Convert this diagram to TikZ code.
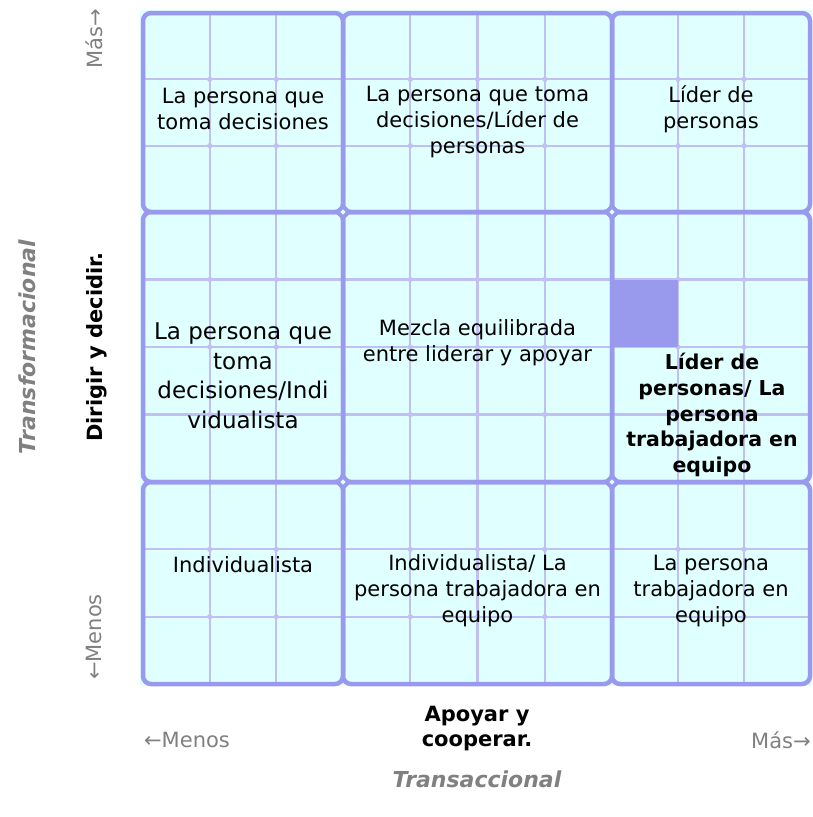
\documentclass[tikz,border=0pt]{standalone}
\usepackage{fontspec}
\setmainfont{DejaVu Sans}
\definecolor{cellbg}{RGB}{224,255,255}
\definecolor{majorblue}{RGB}{153,153,238}
\definecolor{minorblue}{RGB}{192,192,242}
\definecolor{axisgray}{RGB}{128,128,128}
\begin{document}
\begin{tikzpicture}[x=1pt,y=-1pt,
    celltext/.style={align=center,inner sep=0pt,font=\fontsize{21}{26}\selectfont},
    bigtext/.style={align=center,inner sep=0pt,font=\fontsize{23}{29.5}\selectfont},
    boldtext/.style={align=center,inner sep=0pt,font=\fontsize{20.5}{25.8}\selectfont\bfseries},
    axistick/.style={inner sep=0pt,text=axisgray,font=\fontsize{21}{26}\selectfont},
    axisname/.style={align=center,inner sep=0pt,font=\fontsize{21}{25}\selectfont\bfseries},
    axistitle/.style={inner sep=0pt,text=axisgray,font=\fontsize{22}{26}\selectfont\bfseries\itshape},
    minorline/.style={draw=minorblue,line width=2.2pt},
    majorbox/.style={draw=majorblue,line width=4.5pt,rounded corners=8pt}]
\useasboundingbox (0,0) rectangle (813,817);

%Background
\fill [cellbg] (140,10) rectangle (812,686);

%Minor grid lines
\draw [minorline] (209.7,13) -- (209.7,684) (276.3,13) -- (276.3,684)
  (410.3,13) -- (410.3,684) (477.5,13) -- (477.5,684) (544.8,13) -- (544.8,684)
  (678,13) -- (678,684) (744,13) -- (744,684);
\draw [minorline] (143,79.3) -- (810,79.3) (143,145.7) -- (810,145.7)
  (143,279.5) -- (810,279.5) (143,347) -- (810,347) (143,414.5) -- (810,414.5)
  (143,549.3) -- (810,549.3) (143,616.7) -- (810,616.7);
\foreach \gx in {209.7,276.3,410.3,477.5,544.8,678,744}
  \foreach \gy in {79.3,145.7,279.5,347,414.5,549.3,616.7}
    \fill [minorblue] (\gx,\gy) circle (2.6pt);

%Marked square
\fill [majorblue] (612,279.5) rectangle (678,347);

%Rounded Rects
\draw [majorbox] (143,13) rectangle (343,212);
\draw [majorbox] (343,13) rectangle (612,212);
\draw [majorbox] (612,13) rectangle (810,212);
\draw [majorbox] (143,212) rectangle (343,482);
\draw [majorbox] (343,212) rectangle (612,482);
\draw [majorbox] (612,212) rectangle (810,482);
\draw [majorbox] (143,482) rectangle (343,684);
\draw [majorbox] (343,482) rectangle (612,684);
\draw [majorbox] (612,482) rectangle (810,684);

%Junctions
\foreach \jx in {343,612}
  \foreach \jy in {212,482} {
    \fill [majorblue] (\jx,\jy) circle (6pt);
    \fill [cellbg] (\jx-2.6,\jy) -- (\jx,\jy-2.6) -- (\jx+2.6,\jy) -- (\jx,\jy+2.6) -- cycle;
  }

% Text Node
\node [celltext] (dec) at (243,109) {La persona que\\toma decisiones};
% Text Node
\node [celltext] (declid) at (477.5,122) {La persona que toma\\decisiones/Líder de\\personas};
% Text Node
\node [celltext] (lid) at (711,109) {Líder de\\personas};
% Text Node
\node [bigtext] (decind) at (243,376) {La persona que\\toma\\decisiones/Indi\\vidualista};
% Text Node
\node [celltext] (mez) at (477.5,343) {Mezcla equilibrada\\entre liderar y apoyar};
% Text Node
\node [boldtext] (lidequ) at (712,415) {Líder de\\personas/ La\\persona\\trabajadora en\\equipo};
% Text Node
\node [celltext] (ind) at (243,565) {Individualista};
% Text Node
\node [celltext] (indequ) at (477.5,591) {Individualista/ La\\persona trabajadora en\\equipo};
% Text Node
\node [celltext] (equ) at (711,591) {La persona\\trabajadora en\\equipo};

% Vertical axis
\node [axistick,rotate=90] (ymas) at (94,39) {Más→};
\node [axistick,rotate=90] (ymenos) at (94,637) {←Menos};
\node [axisname,rotate=90] (ydir) at (97,347) {Dirigir y decidir.};
\node [axistitle,rotate=90] (ytrans) at (27,347) {Transformacional};

% Horizontal axis
\node [axistick] (xmenos) at (187,740) {←Menos};
\node [axistick] (xmas) at (781,740) {Más→};
\node [axisname] (xapo) at (477,729) {Apoyar y\\cooperar.};
\node [axistitle] (xtrans) at (477,779) {Transaccional};
\end{tikzpicture}
\end{document}
